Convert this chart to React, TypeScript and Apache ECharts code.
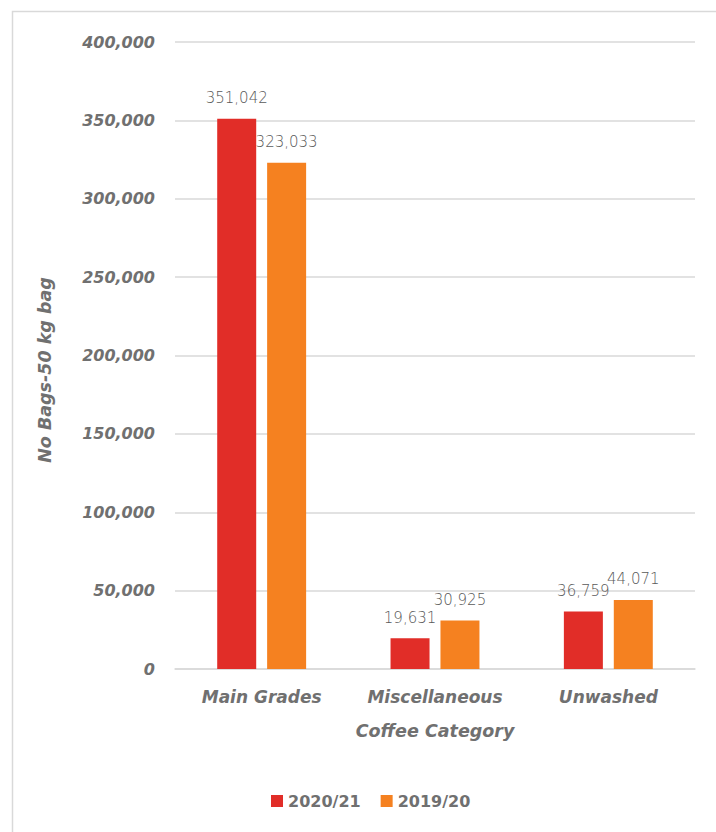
import React, { useEffect, useRef } from "react";
import * as echarts from "echarts";

const categories = ["Main Grades", "Miscellaneous", "Unwashed"];
const series2021 = [351042, 19631, 36759];
const series1920 = [323033, 30925, 44071];
const seriesNames = ["2020/21", "2019/20"];
const yAxisName = "No Bags-50 kg bag";
const xAxisName = "Coffee Category";

const FONT = "'DejaVu Sans', sans-serif";
const GRAY = "#707070";

export default function App() {
  const ref = useRef<HTMLDivElement>(null);
  useEffect(() => {
    if (!ref.current) return;
    const chart = echarts.init(ref.current, undefined, { renderer: "svg" });
    const fmt = (v: number) => v.toLocaleString("en-US");
    const label = {
      show: true,
      position: "top",
      distance: 13,
      color: "#595959",
      fontFamily: FONT,
      fontWeight: 300,
      fontSize: 15,
      formatter: (p: any) => fmt(p.value),
    };
    chart.setOption({
      animation: false,
      backgroundColor: "#ffffff",
      graphic: [
        {
          type: "rect",
          left: 10,
          top: 9,
          shape: { width: 800, height: 900 },
          style: { fill: "none", stroke: "#d9d9d9", lineWidth: 1.5 },
          silent: true,
        },
        {
          type: "text",
          x: 45,
          y: 370,
          rotation: Math.PI / 2,
          style: {
            text: yAxisName,
            fill: GRAY,
            font: "italic bold 17.5px 'DejaVu Sans', sans-serif",
            align: "center",
            verticalAlign: "middle",
          },
          silent: true,
        },
      ],
      grid: { left: 175, right: 21, top: 42, bottom: 163 },
      legend: {
        bottom: 18,
        left: 266,
        icon: "rect",
        itemWidth: 12,
        itemHeight: 12,
        itemGap: 20,
        textStyle: { color: GRAY, fontFamily: FONT, fontWeight: "bold", fontSize: 16 },
        data: seriesNames,
      },
      xAxis: {
        type: "category",
        data: categories,
        name: xAxisName,
        nameLocation: "middle",
        nameGap: 53,
        nameTextStyle: { color: GRAY, fontFamily: FONT, fontWeight: "bold", fontStyle: "italic", fontSize: 17.5 },
        axisLine: { lineStyle: { color: "#d9d9d9", width: 1.5 } },
        axisTick: { show: false },
        axisLabel: {
          interval: 0,
          hideOverlap: false,
          color: GRAY,
          fontFamily: FONT,
          fontWeight: "bold",
          fontStyle: "italic",
          fontSize: 17,
          margin: 19,
        },
      },
      yAxis: {
        type: "value",
        min: 0,
        max: 400000,
        interval: 50000,
        axisLine: { show: false },
        axisTick: { show: false },
        splitLine: { lineStyle: { color: "#d9d9d9", width: 1.5 } },
        axisLabel: {
          color: GRAY,
          fontFamily: FONT,
          fontWeight: "bold",
          fontStyle: "italic",
          fontSize: 16,
          margin: 20,
          formatter: (v: number) => fmt(v),
        },
      },
      series: [
        {
          name: seriesNames[0],
          type: "bar",
          data: series2021,
          barWidth: 39,
          barGap: "28%",
          itemStyle: { color: "#E12D28" },
          label,
        },
        {
          name: seriesNames[1],
          type: "bar",
          data: series1920,
          barWidth: 39,
          barGap: "28%",
          itemStyle: { color: "#F58120" },
          label,
        },
      ],
    });
    return () => chart.dispose();
  }, []);
  return (
    <div
      ref={ref}
      style={{ position: "fixed", left: 0, top: 0, width: 716, height: 832, background: "#fff" }}
    />
  );
}
